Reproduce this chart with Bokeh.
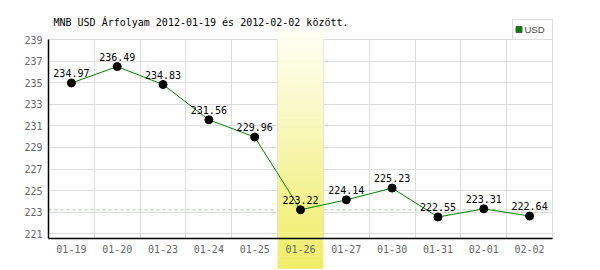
from bokeh.plotting import figure
from bokeh.models import Range1d, FixedTicker, Span, ColumnDataSource, Title
from bokeh.core.properties import value
from bokeh.embed import file_html
from bokeh.resources import INLINE

# ---- data ----
dates = ["01-19", "01-20", "01-23", "01-24", "01-25", "01-26",
         "01-27", "01-30", "01-31", "02-01", "02-02"]
usd = [234.97, 236.49, 234.83, 231.56, 229.96, 223.22,
       224.14, 225.23, 222.55, 223.31, 222.64]
highlight = "01-26"
y_ticks = [221, 223, 225, 227, 229, 231, 233, 235, 237, 239]
title_text = "MNB USD Árfolyam 2012-01-19 és 2012-02-02 között."
series_name = "USD"

# ---- layout constants ----
W, H = 600, 270
B_LEFT, B_RIGHT, B_TOP, B_BOTTOM = 48, 48, 39, 32
Y0, Y1 = 220.56, 239.0
MONO = "DejaVu Sans Mono"

p = figure(width=W, height=H, x_range=dates, y_range=Range1d(Y0, Y1),
           output_backend="svg", toolbar_location=None,
           min_border_left=B_LEFT, min_border_right=B_RIGHT,
           min_border_top=B_TOP, min_border_bottom=B_BOTTOM,
           background_fill_color="white", border_fill_color="white",
           outline_line_color="#dddddd")

p.title = Title(text=title_text, text_font=MONO, text_font_size="10px",
                text_font_style="normal", text_color="#000000",
                align="left", offset=5, standoff=23)

# grids
p.ygrid.ticker = FixedTicker(ticks=y_ticks)
p.ygrid.grid_line_color = "#dddddd"
p.xgrid.ticker = FixedTicker(ticks=list(range(len(dates) + 1)))
p.xgrid.grid_line_color = "#dddddd"

# axes
for ax in (p.xaxis[0], p.yaxis[0]):
    ax.axis_line_color = "black"
    ax.axis_line_width = 1.5
    ax.major_tick_line_color = None
    ax.minor_tick_line_color = None
    ax.major_tick_out = 0
    ax.major_tick_in = 0
    ax.minor_tick_out = 0
    ax.major_label_text_font = MONO
    ax.major_label_text_font_size = "10px"
    ax.major_label_text_color = "#666666"
    ax.level = "overlay"
p.yaxis[0].ticker = FixedTicker(ticks=y_ticks)
p.yaxis[0].major_label_standoff = 6
p.xaxis[0].major_label_standoff = 6

# dashed reference line at highlighted value
hl_idx = dates.index(highlight)
span = Span(location=usd[hl_idx], dimension="width", line_color="#a8cca8",
            line_dash="3 3", line_width=1, level="underlay")
p.add_layout(span)

# pixel <-> data helpers (layout only)
ppu = (H - B_TOP - B_BOTTOM) / (Y1 - Y0)
ppc = (W - B_LEFT - B_RIGHT) / len(dates)

# highlight band with vertical gradient (drawn beyond frame)
band_top = Y1 + 10 / ppu
band_bot = Y0 - 30 / ppu
n = 60
c_top = (255, 255, 246)
c_bot = (239, 236, 100)
bottoms, tops, cols = [], [], []
for i in range(n):
    t0 = band_top - (band_top - band_bot) * i / n
    t1 = band_top - (band_top - band_bot) * (i + 1) / n
    f = (i + 0.5) / n
    c = tuple(int(round(c_top[k] + (c_bot[k] - c_top[k]) * f)) for k in range(3))
    tops.append(t0)
    bottoms.append(t1 - 0.02)
    cols.append("#%02x%02x%02x" % c)
band_src = ColumnDataSource(dict(left=[hl_idx] * n, right=[hl_idx + 1] * n,
                                 top=tops, bottom=bottoms, color=cols))
p.quad(left="left", right="right", top="top", bottom="bottom",
       fill_color="color", line_color=None, source=band_src, level="guide")

# series
src = ColumnDataSource(dict(x=dates, y=usd, lab=["%.2f" % v for v in usd]))
p.line("x", "y", source=src, line_color="#008000", line_width=1,
       level="annotation")
p.scatter("x", "y", source=src, size=8, fill_color="black",
          line_color="black", level="annotation")
p.text("x", "y", text="lab", source=src, text_font=value(MONO),
       text_font_size="10px", text_color="black", text_align="center",
       text_baseline="bottom", y_offset=-6, level="annotation")

# legend box (above the frame, right aligned)
nx = len(dates)
leg_left = nx - 40 / ppc
leg_top = Y1 + 20 / ppu
leg_mid = Y1 + 10 / ppu
p.quad(left=[leg_left], right=[nx], bottom=[Y1], top=[leg_top],
       fill_color="white", line_color="#dddddd", line_width=1,
       level="overlay")
sq_x0, sq_x1 = leg_left + 3.5 / ppc, leg_left + 9.5 / ppc
sq_y0, sq_y1 = leg_mid - 3 / ppu, leg_mid + 3 / ppu
p.patch(x=[sq_x0, sq_x1, sq_x1, sq_x0], y=[sq_y0, sq_y0, sq_y1, sq_y1],
        fill_color="#008000", line_color="#555555", line_width=1,
        level="overlay")
p.text(x=[leg_left + 12 / ppc], y=[leg_mid], text=[series_name],
       text_font=value("Liberation Sans"), text_font_size="9.5px",
       text_color="#444444", text_align="left", text_baseline="middle",
       level="overlay")

open("out.html", "w").write(file_html(p, INLINE))
